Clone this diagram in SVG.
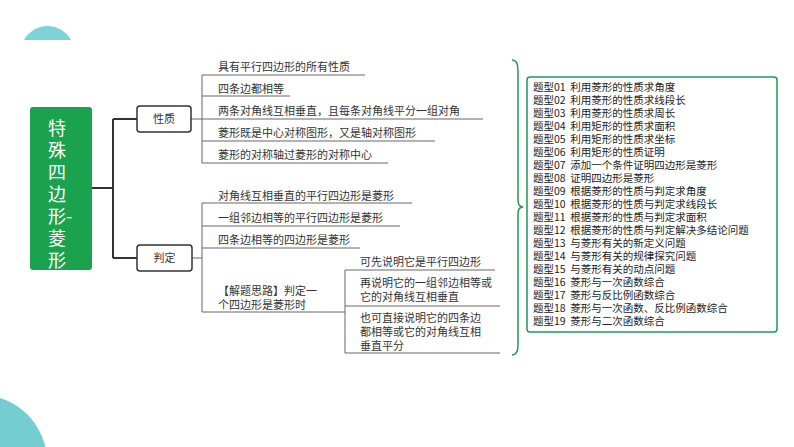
<svg xmlns="http://www.w3.org/2000/svg" width="794" height="447" viewBox="0 0 794 447">
<style>
.t{font-family:"Noto Sans CJK SC","Liberation Serif",serif;font-size:11px;fill:#333}
.q{font-family:"Noto Sans CJK SC","Liberation Serif",serif;font-size:10.5px;fill:#222;white-space:pre}
.ln{stroke:#666;stroke-width:1;fill:none}
.tr{stroke:#333;stroke-width:2;fill:none}
.bx{fill:#fff;stroke:#333;stroke-width:1.5}
</style>
<defs><clipPath id="c1"><rect x="0" y="0" width="100" height="40"/></clipPath></defs>
<circle cx="47.5" cy="52.7" r="26.7" fill="#7ed3d6" clip-path="url(#c1)"/>
<circle cx="-20" cy="462" r="67" fill="#74cdd0"/>
<g id="connectors">
<path class="tr" d="M92 188H113M113 119V258M113 119H137M113 258H137"/>
<path class="ln" d="M191 119H202M202 75V163M202 75H365M202 96H290M202 119H483M202 141H435M202 163H388"/>
<path class="ln" d="M192 258H202M202 203V312M202 203H412M202 226H400M202 248H360M202 312H345M345 270V353M345 270H495M345 306H500M345 353H500"/>
<path d="M512 60Q518 60 518 70V200Q518 207 523 207Q518 207 518 214V345Q518 355 512 355" fill="none" stroke="#1e9a55" stroke-width="1.5"/>
</g>
<g id="root"><rect x="30" y="107" width="62" height="163" rx="3" fill="#1aa24f"/>
<text font-family="Noto Sans CJK SC,sans-serif" font-size="18" fill="#fff"><tspan x="48" y="135">特</tspan><tspan x="48" y="157">殊</tspan><tspan x="48" y="179">四</tspan><tspan x="48" y="201">边</tspan><tspan x="48" y="223">形-</tspan><tspan x="48" y="245">菱</tspan><tspan x="48" y="267">形</tspan></text></g>
<g id="xingzhi"><rect class="bx" x="137" y="106" width="54" height="26" rx="3"/><text class="t" x="164" y="123" text-anchor="middle">性质</text></g>
<g id="panding"><rect class="bx" x="137" y="245" width="55" height="26" rx="3"/><text class="t" x="164.5" y="262" text-anchor="middle">判定</text></g>
<g id="props">
<text class="t" x="218" y="71">具有平行四边形的所有性质</text>
<text class="t" x="218" y="93">四条边都相等</text>
<text class="t" x="218" y="115">两条对角线互相垂直，且每条对角线平分一组对角</text>
<text class="t" x="218" y="137">菱形既是中心对称图形，又是轴对称图形</text>
<text class="t" x="218" y="159">菱形的对称轴过菱形的对称中心</text>
</g>
<g id="judge">
<text class="t" x="218" y="295">【解题思路】判定一</text>
<text class="t" x="218" y="309">个四边形是菱形时</text>
<text class="t" x="218" y="200">对角线互相垂直的平行四边形是菱形</text>
<text class="t" x="218" y="222">一组邻边相等的平行四边形是菱形</text>
<text class="t" x="218" y="244">四条边相等的四边形是菱形</text>
<text class="t" x="360" y="266">可先说明它是平行四边形</text>
<text class="t" x="360" y="287">再说明它的一组邻边相等或</text>
<text class="t" x="360" y="301">它的对角线互相垂直</text>
<text class="t" x="360" y="322">也可直接说明它的四条边</text>
<text class="t" x="360" y="336">都相等或它的对角线互相</text>
<text class="t" x="360" y="350">垂直平分</text>
</g>
<g id="types"><rect x="527" y="77" width="250" height="255" rx="3" fill="#fff" stroke="#1e9a55" stroke-width="1.5"/>
<text class="q" x="533"><tspan x="533" y="91">题型01  利用菱形的性质求角度</tspan><tspan x="533" y="104">题型02  利用菱形的性质求线段长</tspan><tspan x="533" y="117">题型03  利用菱形的性质求周长</tspan><tspan x="533" y="130">题型04  利用矩形的性质求面积</tspan><tspan x="533" y="143">题型05  利用矩形的性质求坐标</tspan><tspan x="533" y="156">题型06  利用矩形的性质证明</tspan><tspan x="533" y="169">题型07  添加一个条件证明四边形是菱形</tspan><tspan x="533" y="182">题型08  证明四边形是菱形</tspan><tspan x="533" y="195">题型09  根据菱形的性质与判定求角度</tspan><tspan x="533" y="208">题型10  根据菱形的性质与判定求线段长</tspan><tspan x="533" y="221">题型11  根据菱形的性质与判定求面积</tspan><tspan x="533" y="234">题型12  根据菱形的性质与判定解决多结论问题</tspan><tspan x="533" y="247">题型13  与菱形有关的新定义问题</tspan><tspan x="533" y="260">题型14  与菱形有关的规律探究问题</tspan><tspan x="533" y="273">题型15  与菱形有关的动点问题</tspan><tspan x="533" y="286">题型16  菱形与一次函数综合</tspan><tspan x="533" y="299">题型17  菱形与反比例函数综合</tspan><tspan x="533" y="312">题型18  菱形与一次函数、反比例函数综合</tspan><tspan x="533" y="325">题型19  菱形与二次函数综合</tspan></text></g>
</svg>
